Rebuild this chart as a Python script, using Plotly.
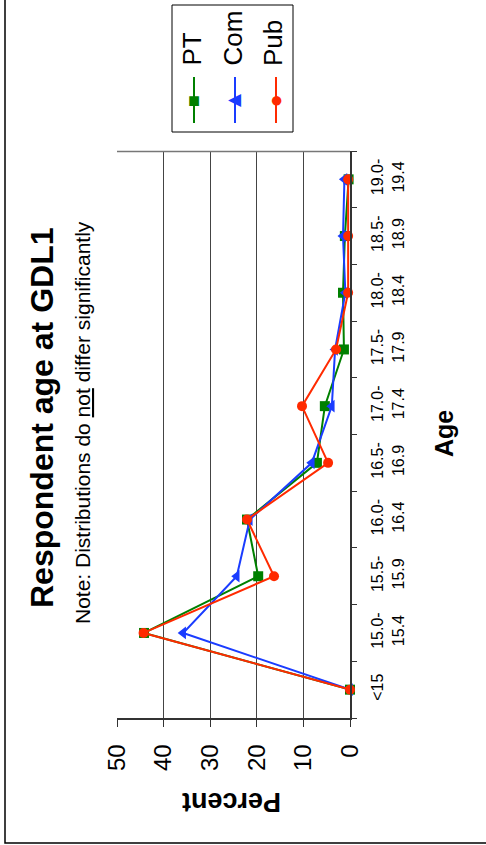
import plotly.graph_objects as go

# ---- data ----
age_groups = ["<15", "15.0-15.4", "15.5-15.9", "16.0-16.4", "16.5-16.9",
              "17.0-17.4", "17.5-17.9", "18.0-18.4", "18.5-18.9", "19.0-19.4"]
age_tick_labels = ["&lt;15", "15.0-<br>15.4", "15.5-<br>15.9", "16.0-<br>16.4", "16.5-<br>16.9",
                   "17.0-<br>17.4", "17.5-<br>17.9", "18.0-<br>18.4", "18.5-<br>18.9", "19.0-<br>19.4"]
pt_values = [0.0, 44.2, 19.7, 22.1, 7.1, 5.4, 1.3, 1.5, 1.1, 0.3]
com_values = [0.0, 35.8, 24.3, 21.5, 8.2, 3.9, 3.2, 1.0, 1.5, 1.2]
pub_values = [0.0, 44.3, 16.3, 22.1, 4.7, 10.3, 3.0, 0.4, 0.4, 0.4]
percent_ticks = [0, 10, 20, 30, 40, 50]

series_names = ["PT", "Com", "Pub"]
series_colors = ["#008000", "#1a3cff", "#ff2a00"]
series_symbols = ["square", "triangle-left", "circle"]

W, H = 486, 845
L, R, T, B = 117, 350, 151, 718  # plot area pixel box


def px(x):
    return (x - L) / (R - L)


def py(y):
    return (B - y) / (B - T)


FONT = "Liberation Sans, Arial, sans-serif"

fig = go.Figure()
for name, vals, col, sym in zip(series_names, [pt_values, com_values, pub_values],
                                series_colors, series_symbols):
    fig.add_trace(go.Scatter(
        x=vals, y=age_groups, mode="lines+markers", name=name,
        line=dict(color=col, width=2),
        marker=dict(color=col, symbol=sym, size=10 if sym != "triangle-left" else 11),
        cliponaxis=False, showlegend=False,
    ))

fig.update_layout(
    width=W, height=H,
    margin=dict(l=L, r=W - R, t=T, b=H - B),
    paper_bgcolor="white", plot_bgcolor="white",
    font=dict(family=FONT, color="black"),
)

fig.update_xaxes(
    range=[50, 0], tickvals=percent_ticks, ticktext=[str(v) for v in percent_ticks],
    tickangle=-90, tickfont=dict(size=24),
    showgrid=True, gridcolor="#444", gridwidth=1,
    showline=True, linecolor="#333", linewidth=1.5, mirror=False,
    ticks="outside", ticklen=7, tickcolor="#333",
    zeroline=False, ticklabelstandoff=8,
)
fig.update_yaxes(
    type="category", categoryorder="array", categoryarray=age_groups,
    range=[-0.5, 9.5], tickvals=age_groups, ticktext=age_tick_labels,
    side="right", tickangle=-90, tickfont=dict(size=16),
    showgrid=False, showline=True, linecolor="#333", linewidth=1.5,
    ticks="outside", ticklen=5, tickcolor="#333", tickson="boundaries",
    zeroline=False, ticklabelstandoff=12,
)

ann = []
ann.append(dict(text="<b>Respondent age at GDL1</b>", x=px(42), y=py(418),
                textangle=-90, font=dict(size=32)))
ann.append(dict(text="Note: Distributions do <u>not</u> differ significantly", x=px(82), y=py(423),
                textangle=-90, font=dict(size=21)))
ann.append(dict(text="<b>Age</b>", x=px(444), y=py(434), textangle=-90, font=dict(size=25)))
ann.append(dict(text="<b>Percent</b>", x=px(232), y=py(802), textangle=180, font=dict(size=27)))

# legend (drawn manually, rotated like the chart)
leg_x = [194, 235, 276]
leg_txt_x = [192, 233, 273]
marker_chars = ["■", "◀", "●"]
marker_sizes = [20, 17, 22]
shapes = []
for name, col, lx, tx, mc, ms in zip(series_names, series_colors, leg_x, leg_txt_x,
                                     marker_chars, marker_sizes):
    shapes.append(dict(type="line", xref="paper", yref="paper",
                       x0=px(lx), x1=px(lx), y0=py(77), y1=py(123),
                       line=dict(color=col, width=2)))
    ann.append(dict(text=mc, x=px(lx), y=py(100), font=dict(size=ms, color=col)))
    ann.append(dict(text=name, x=px(tx), y=py(68), yanchor="bottom",
                    textangle=-90, font=dict(size=26)))

shapes.append(dict(type="rect", xref="paper", yref="paper",
                   x0=px(172), x1=px(293), y0=py(5), y1=py(132),
                   line=dict(color="black", width=1)))
# plot area top edge (gray)
shapes.append(dict(type="line", xref="paper", yref="paper", layer="above",
                   x0=0, x1=1, y0=py(151.5), y1=py(151.5), line=dict(color="#777", width=1.5)))
# outer chart border
shapes.append(dict(type="rect", xref="paper", yref="paper",
                   x0=px(5), x1=px(520), y0=py(-10), y1=py(843),
                   line=dict(color="black", width=1.5), layer="below"))

for a in ann:
    a.setdefault("xref", "paper")
    a.setdefault("yref", "paper")
    a.setdefault("showarrow", False)
    a.setdefault("xanchor", "center")
    a.setdefault("yanchor", "middle")
fig.update_layout(annotations=ann, shapes=shapes)

fig.write_html("out.html", config={"displayModeBar": False},
               post_script="document.body.style.margin='0';document.body.style.overflow='hidden';")
